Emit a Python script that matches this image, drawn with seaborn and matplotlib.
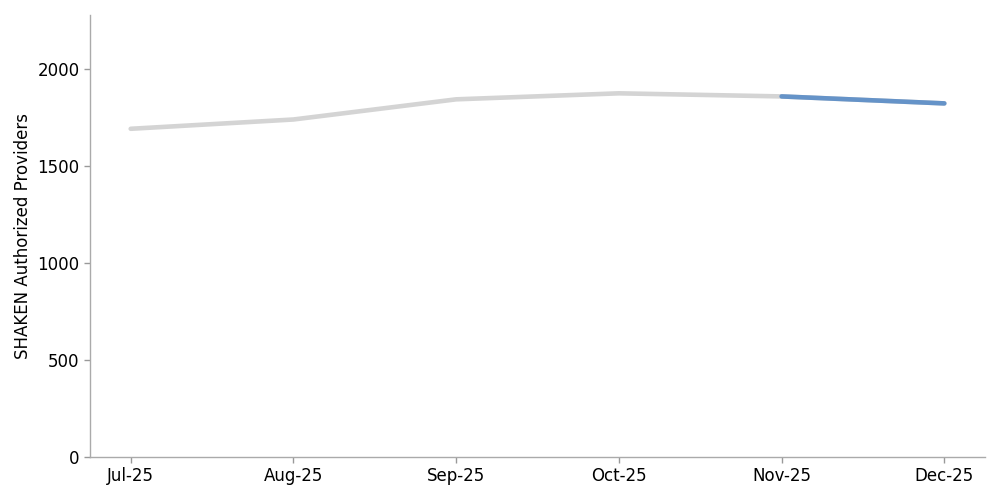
import seaborn as sns
import matplotlib.pyplot as plt
import pandas as pd

months = ['Jul-25', 'Aug-25', 'Sep-25', 'Oct-25', 'Nov-25', 'Dec-25']
providers = [1693, 1741, 1845, 1876, 1860, 1824]

df = pd.DataFrame({'month': months, 'providers': providers, 'x': range(len(months))})

sns.set_style('white')
plt.rcParams['font.family'] = ['DejaVu Sans']

fig, ax = plt.subplots(figsize=(10, 5), dpi=100)

# full history in light grey, latest month highlighted in blue
sns.lineplot(data=df, x='x', y='providers', color='#d4d4d4', linewidth=3.3, ax=ax)
sns.lineplot(data=df.iloc[-2:], x='x', y='providers', color='#6593c8', linewidth=3.3, ax=ax)

ax.set_xticks(df['x'])
ax.set_xticklabels(months)
ax.set_ylim(0, 2280)
ax.set_xlabel('')
ax.set_ylabel('SHAKEN Authorized Providers', fontsize=12, color='black')
ax.tick_params(axis='both', labelsize=12, labelcolor='black', color='#999999',
               length=4, width=1, bottom=True, left=True)

sns.despine(ax=ax)
for s in ['left', 'bottom']:
    ax.spines[s].set_color('#aaaaaa')
    ax.spines[s].set_linewidth(1)

fig.subplots_adjust(left=0.09, right=0.985, top=0.97, bottom=0.086)
fig.savefig('out.png')
